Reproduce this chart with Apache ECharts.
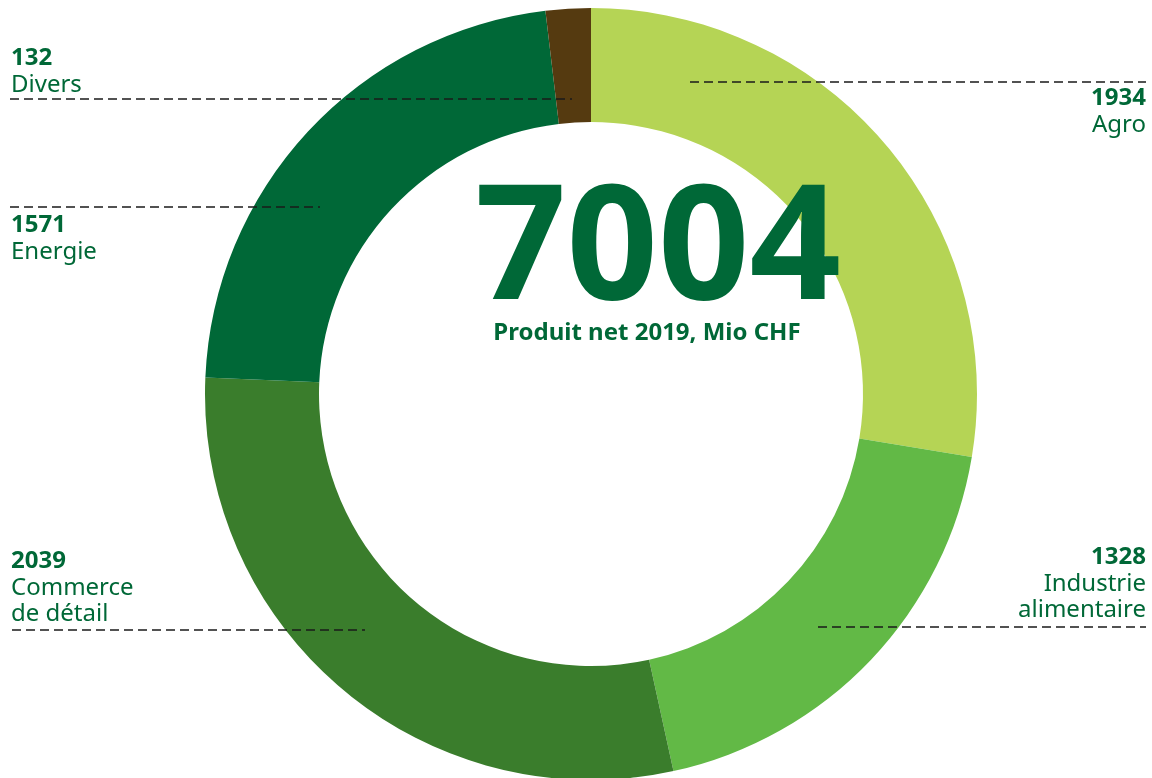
<!DOCTYPE html>
<html>
<head>
<meta charset="utf-8">
<script src="https://cdn.jsdelivr.net/npm/echarts@6/dist/echarts.min.js"></script>
<style>
  html, body { margin: 0; padding: 0; background: #fff; }
  #chart { width: 1152px; height: 778px; }
</style>
</head>
<body>
<div id="chart"></div>
<script>
// data
const categories = ['Agro', 'Industrie\nalimentaire', 'Commerce\nde détail', 'Energie', 'Divers'];
const values = [1934, 1328, 2039, 1571, 132];
const colors = ['#b5d455', '#62b946', '#3a7d2c', '#006837', '#553a10'];
const totalLabel = '7004';
const subtitle = 'Produit net 2019, Mio CHF';

// where each label sits and where its dashed leader runs (x1, x2, y)
const labelPos = [
  { x: 1146, y: 85, align: 'right', line: [690, 1146, 82] },
  { x: 1146, y: 544, align: 'right', line: [818, 1146, 627] },
  { x: 11, y: 548, align: 'left', line: [12, 365, 630] },
  { x: 11, y: 212, align: 'left', line: [10, 320, 207] },
  { x: 11, y: 45, align: 'left', line: [10, 572, 99] }
];

const green = '#006837';
const chart = echarts.init(document.getElementById('chart'));

// dashed leaders drawn above the ring, as in the original
const leaders = labelPos.map(p => ({
  type: 'line',
  z: 100,
  shape: { x1: p.line[0], y1: p.line[2], x2: p.line[1], y2: p.line[2] },
  style: { stroke: '#1a1a1a', lineWidth: 1.6, lineDash: [9, 5] }
}));

const option = {
  backgroundColor: '#ffffff',
  animation: false,
  series: [{
    type: 'pie',
    center: [591, 394],
    radius: [272, 386],
    startAngle: 90,
    clockwise: true,
    silent: true,
    data: categories.map((name, i) => ({
      name: name,
      value: values[i],
      itemStyle: { color: colors[i] }
    })),
    label: {
      show: true,
      position: 'outside',
      formatter: function (p) {
        const lines = p.name.split('\n').map(s => '{n|' + s + '}');
        return '{v|' + p.value + '}\n' + lines.join('\n');
      },
      rich: {
        v: { fontFamily: 'Noto Sans', fontWeight: 'bold', fontSize: 24, color: green, lineHeight: 27 },
        n: { fontFamily: 'Noto Sans', fontSize: 24, color: green, lineHeight: 26 }
      }
    },
    labelLine: { show: false },
    labelLayout: function (params) {
      const p = labelPos[params.dataIndex];
      return { x: p.x, y: p.y, align: p.align, verticalAlign: 'top' };
    }
  }],
  graphic: leaders.concat([
    {
      type: 'text',
      z: 100,
      x: 658,
      y: 253,
      style: {
        text: totalLabel,
        font: 'bold 160px "Noto Sans"',
        fill: green,
        textAlign: 'center',
        textVerticalAlign: 'middle'
      }
    },
    {
      type: 'text',
      z: 100,
      x: 647,
      y: 333,
      style: {
        text: subtitle,
        font: 'bold 24px "Noto Sans"',
        fill: green,
        textAlign: 'center',
        textVerticalAlign: 'middle'
      }
    }
  ])
};

chart.setOption(option);
</script>
</body>
</html>
